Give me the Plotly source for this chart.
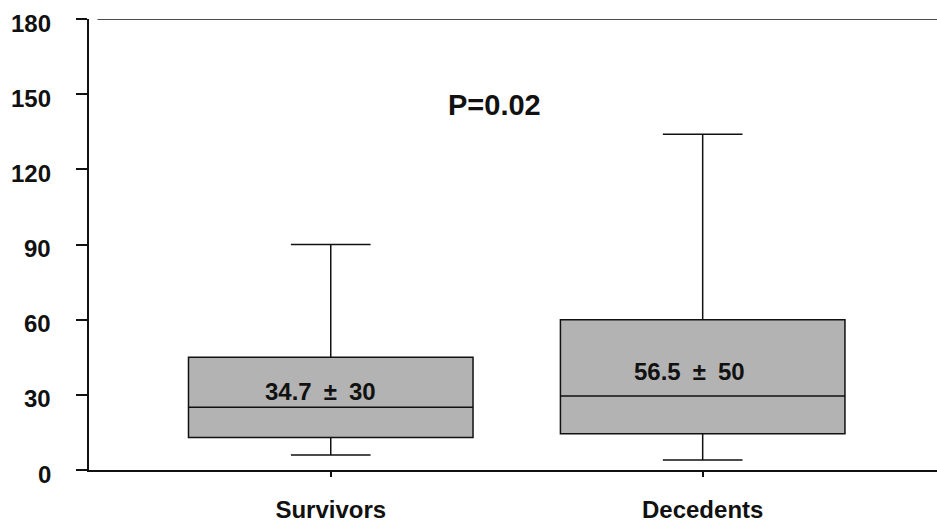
import plotly.graph_objects as go

# Group summary statistics
groups = ["Survivors", "Decedents"]
q1 = [13, 14.5]
median = [25, 29.5]
q3 = [45, 60]
lower_whisker = [6, 4]
upper_whisker = [90, 134]
means = [34.7, 56.5]
sds = [30, 50]
p_value = "P=0.02"
y_ticks = [0, 30, 60, 90, 120, 150, 180]

FONT = "Liberation Sans, Arial, sans-serif"
INK = "#111111"

fig = go.Figure()
for i, g in enumerate(groups):
    fig.add_trace(go.Box(
        x=[g], q1=[q1[i]], median=[median[i]], q3=[q3[i]],
        lowerfence=[lower_whisker[i]], upperfence=[upper_whisker[i]],
        width=0.765, whiskerwidth=0.28,
        fillcolor="#b3b3b3", line=dict(color=INK, width=1.5),
        boxpoints=False, showlegend=False, hoverinfo="skip",
    ))

# mean ± SD labels inside each box
label_y = [31.5, 39.2]
label_shift = [-10, -13]
for i, g in enumerate(groups):
    fig.add_annotation(
        x=g, y=label_y[i], text=f"{means[i]}\u2002±\u2002{sds[i]}", showarrow=False,
        xshift=label_shift[i],
        font=dict(family=FONT, size=24, color=INK, weight="bold"),
    )

fig.add_annotation(
    x=0.5, y=145.6, xref="x", yref="y", text=p_value, showarrow=False,
    xshift=-22, font=dict(family=FONT, size=29, color=INK, weight="bold"),
)

# y tick labels, set slightly below their tick marks
for v in y_ticks:
    fig.add_annotation(
        x=0, xref="paper", y=v, yref="y", text=str(v), showarrow=False,
        xanchor="right", xshift=-36, yshift=-4,
        font=dict(family=FONT, size=24, color=INK, weight="bold"),
    )

# top border line at the axis maximum
fig.add_shape(type="line", xref="paper", yref="y", x0=0.01, x1=1, y0=180, y1=180,
              line=dict(color=INK, width=1.5))

fig.update_layout(
    width=937, height=523,
    margin=dict(l=89, r=0, t=19, b=53),
    plot_bgcolor="white", paper_bgcolor="white",
    xaxis=dict(
        type="category", range=[-0.65, 1.63], automargin=False,
        showline=True, linecolor=INK, linewidth=1.5,
        ticks="outside", ticklen=5, tickcolor=INK, tickwidth=1.5,
        ticklabelstandoff=12,
        showgrid=False, zeroline=False,
        tickfont=dict(family=FONT, size=24, color=INK, weight="bold"),
    ),
    yaxis=dict(
        range=[0, 180], tickvals=y_ticks, showticklabels=False, automargin=False,
        showline=True, linecolor=INK, linewidth=1.5,
        ticks="outside", ticklen=11, tickcolor=INK, tickwidth=1.5,
        showgrid=False, zeroline=False,
    ),
)

fig.write_html("out.html")
